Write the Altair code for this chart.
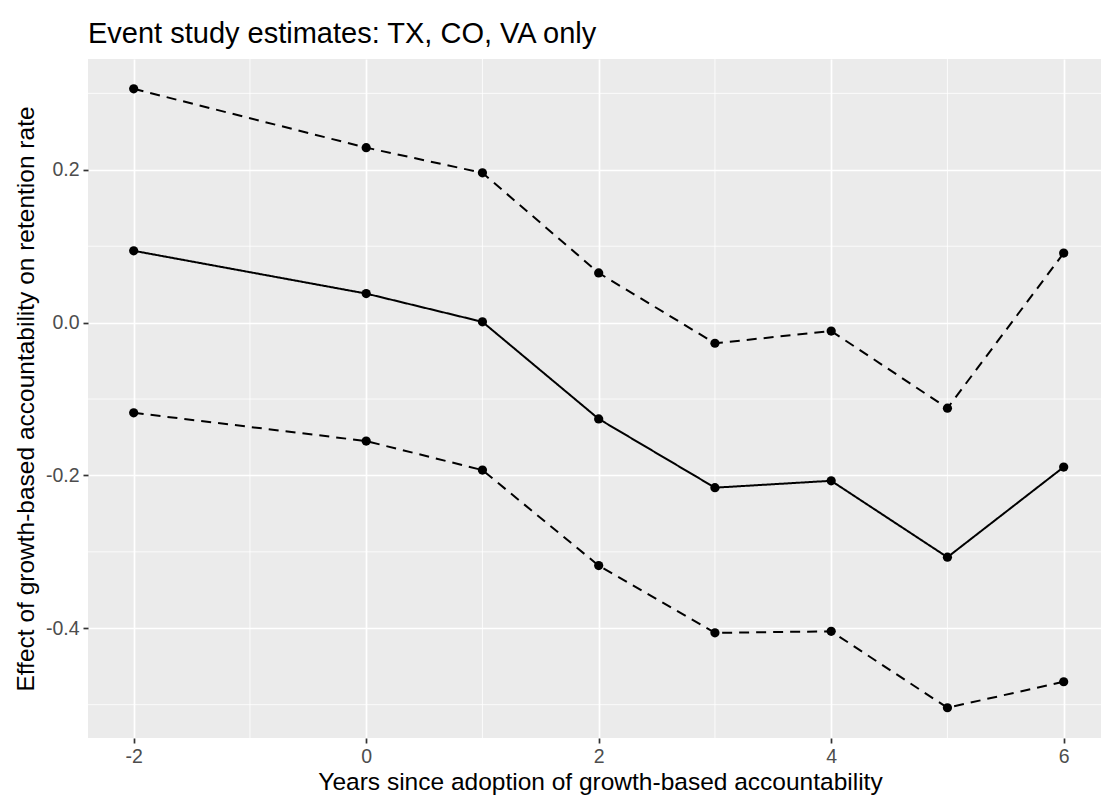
import altair as alt
import pandas as pd

years = [-2, 0, 1, 2, 3, 4, 5, 6]
estimate = [0.094, 0.038, 0.001, -0.126, -0.216, -0.207, -0.307, -0.189]
upper = [0.306, 0.229, 0.196, 0.065, -0.027, -0.011, -0.112, 0.091]
lower = [-0.118, -0.155, -0.193, -0.318, -0.406, -0.404, -0.504, -0.470]

x_major = [-2, 0, 2, 4, 6]
x_minor = [-1, 1, 3, 5]
y_major = [-0.4, -0.2, 0.0, 0.2]
y_minor = [-0.5, -0.3, -0.1, 0.1, 0.3]

rows = []
for name, vals in [("estimate", estimate), ("upper", upper), ("lower", lower)]:
    for xv, yv in zip(years, vals):
        rows.append({"x": xv, "y": yv, "series": name})
df = pd.DataFrame(rows)

FONT = "Liberation Sans"
xscale = alt.Scale(domain=[-2.393, 6.321], nice=False, zero=False)
yscale = alt.Scale(domain=[-0.5436, 0.345], nice=False, zero=False)

xminor_df = pd.DataFrame({"x": x_minor})
yminor_df = pd.DataFrame({"y": y_minor})

vminor = alt.Chart(xminor_df).mark_rule(color="white", strokeWidth=0.8).encode(
    x=alt.X("x:Q", scale=xscale)
)
hminor = alt.Chart(yminor_df).mark_rule(color="white", strokeWidth=0.8).encode(
    y=alt.Y("y:Q", scale=yscale)
)

base = alt.Chart(df).encode(
    x=alt.X(
        "x:Q",
        scale=xscale,
        axis=alt.Axis(
            values=x_major,
            title="Years since adoption of growth-based accountability",
            labelExpr="datum.value < 0 ? '-' + format(abs(datum.value), 'd') : format(datum.value, 'd')",
            titleX=512,
        ),
    ),
    y=alt.Y(
        "y:Q",
        scale=yscale,
        axis=alt.Axis(
            values=y_major,
            title="Effect of growth-based accountability on retention rate",
            labelExpr="datum.value < 0 ? '-' + format(abs(datum.value), '.1f') : format(datum.value, '.1f')",
        ),
    ),
)

lines = base.mark_line(color="black", strokeWidth=2).encode(
    detail="series:N",
    strokeDash=alt.StrokeDash(
        "series:N",
        scale=alt.Scale(domain=["estimate", "upper", "lower"], range=[[1, 0], [10, 7], [10, 7]]),
        legend=None,
    ),
)
points = base.mark_point(filled=True, color="black", size=85, opacity=1)

chart = (
    alt.layer(vminor, hminor, lines, points)
    .properties(
        width=1013,
        height=679,
        autosize=alt.AutoSizeParams(type="none"),
        padding={"left": 88, "top": 59, "right": 0, "bottom": 59},
        title=alt.Title(
            "Event study estimates: TX, CO, VA only",
            anchor="start",
            frame="group",
            fontSize=29,
            font=FONT,
            fontWeight="normal",
            color="black",
            baseline="alphabetic",
            offset=18,
            dy=31,
        ),
    )
    .configure_view(fill="#EBEBEB", stroke=None)
    .configure_axis(
        domain=False,
        grid=True,
        gridColor="white",
        gridWidth=1.7,
        tickColor="#333333",
        tickSize=5,
        tickWidth=1.7,
        labelColor="#4D4D4D",
        labelFont=FONT,
        labelFontSize=19.5,
        labelPadding=4,
        titleFont=FONT,
        titleFontSize=24.5,
        titleFontWeight="normal",
        titleColor="black",
    )
    .configure_axisX(titlePadding=5)
    .configure_axisY(titlePadding=7)
)

chart.save("out.html", embed_options={"renderer": "svg", "actions": False})
